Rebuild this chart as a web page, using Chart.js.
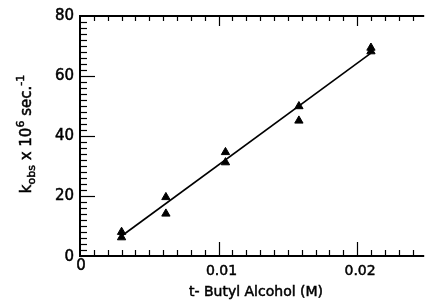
<!DOCTYPE html>
<html>
<head>
<meta charset="utf-8">
<script src="https://cdn.jsdelivr.net/npm/chart.js@4.4.1/dist/chart.umd.min.js"></script>
<style>
  html, body { margin: 0; padding: 0; background: #fff; }
  #wrap { width: 428px; height: 301px; }
</style>
</head>
<body>
<div id="wrap"><canvas id="c" width="428" height="301"></canvas></div>
<script>
// ---- data ----
const alcoholM   = [0.0030, 0.0030, 0.0062, 0.0062, 0.0105, 0.0105, 0.0158, 0.0158, 0.0210, 0.0210];
const kObs       = [8.0, 6.2, 19.6, 14.1, 34.6, 31.2, 49.9, 45.1, 69.4, 68.2];
const fitX       = [0.0031, 0.0210];
const fitY       = [7.0, 67.6];
const xTickVals  = [0, 0.01, 0.02];
const xTickText  = ['0', '0.01', '0.02'];
const yTickVals  = [0, 20, 40, 60, 80];
const yTickText  = ['0', '20', '40', '60', '80'];
const xTitle     = 't- Butyl Alcohol (M)';

const points = alcoholM.map((x, i) => ({ x: x, y: kObs[i] }));
const fit = fitX.map((x, i) => ({ x: x, y: fitY[i] }));

const FONT = '"DejaVu Sans", "Liberation Sans", sans-serif';

function heavyText(ctx, t, x, y) {
  ctx.fillText(t, x, y);
  ctx.strokeText(t, x, y);
}

const frame = {
  id: 'frame',
  afterDraw(chart) {
    const ctx = chart.ctx;
    const xs = chart.scales.x, ys = chart.scales.y;
    const a = chart.chartArea;
    ctx.save();
    ctx.strokeStyle = '#000';
    ctx.fillStyle = '#000';
    // border
    ctx.lineWidth = 2;
    ctx.beginPath();
    ctx.moveTo(a.right + 2, a.top);
    ctx.lineTo(a.left, a.top);
    ctx.lineTo(a.left, a.bottom);
    ctx.lineTo(a.right + 2, a.bottom);
    ctx.stroke();
    // x ticks (minor every 0.001, major 0.01)
    ctx.lineWidth = 1.2;
    for (let i = 1; i <= 24; i++) {
      const v = i * 0.001;
      const px = Math.round(xs.getPixelForValue(v)) + 0.5;
      const major = (i % 10 === 0);
      const len = major ? 14 : 6;
      ctx.beginPath();
      ctx.moveTo(px, a.bottom);
      ctx.lineTo(px, a.bottom - len);
      ctx.moveTo(px, a.top);
      ctx.lineTo(px, a.top + (major ? 10 : 5));
      ctx.stroke();
    }
    // y ticks (minor every 2, major at 20)
    for (let v = 2; v < 80; v += 2) {
      const py = Math.round(ys.getPixelForValue(v)) + 0.5;
      const major = (v % 20 === 0);
      const len = major ? 15 : 7;
      ctx.beginPath();
      ctx.moveTo(a.left, py);
      ctx.lineTo(a.left + len, py);
      ctx.stroke();
    }
    ctx.lineWidth = 0.5;
    // tick labels
    ctx.font = '15px ' + FONT;
    ctx.textAlign = 'right';
    ctx.textBaseline = 'middle';
    yTickVals.forEach((v, i) => {
      const py = ys.getPixelForValue(v);
      heavyText(ctx, yTickText[i], a.left - 6, py + (v === 0 ? 1 : 0));
    });
    ctx.textAlign = 'center';
    ctx.textBaseline = 'top';
    xTickVals.forEach((v, i) => {
      const px = xs.getPixelForValue(v);
      ctx.font = (v === 0 ? '15px ' : '14px ') + FONT;
      heavyText(ctx, xTickText[i], px + (v === 0 ? 1 : 3), a.bottom + (v === 0 ? 3 : 8));
    });
    // x title
    ctx.font = '14px ' + FONT;
    ctx.textAlign = 'center';
    ctx.textBaseline = 'middle';
    heavyText(ctx, xTitle, 256, 292);
    // y title with sub/superscripts
    const parts = [
      { t: 'k', s: 15, dy: 0 },
      { t: 'obs', s: 11, dy: 4 },
      { t: ' x 10', s: 15, dy: 0 },
      { t: '6', s: 11, dy: -7 },
      { t: ' sec.', s: 15, dy: 0 },
      { t: '-1', s: 11, dy: -7 }
    ];
    let total = 0;
    parts.forEach(p => { ctx.font = p.s + 'px ' + FONT; p.w = ctx.measureText(p.t).width; total += p.w; });
    ctx.translate(31, 134);
    ctx.rotate(-Math.PI / 2);
    ctx.textAlign = 'left';
    ctx.textBaseline = 'alphabetic';
    let cx = -total / 2;
    parts.forEach(p => {
      ctx.font = p.s + 'px ' + FONT;
      heavyText(ctx, p.t, cx, 0 + p.dy);
      cx += p.w;
    });
    ctx.restore();
  }
};

new Chart(document.getElementById('c'), {
  type: 'scatter',
  data: {
    datasets: [
      {
        label: 'fit',
        type: 'line',
        data: fit,
        borderColor: '#000',
        borderWidth: 1.6,
        pointRadius: 0,
        fill: false
      },
      {
        label: 'k_obs',
        data: points,
        pointStyle: 'triangle',
        pointRadius: 4.8,
        backgroundColor: '#000',
        borderColor: '#000',
        borderWidth: 1
      }
    ]
  },
  options: {
    responsive: false,
    animation: false,
    devicePixelRatio: 1,
    layout: { padding: { left: 80, top: 16, right: 0, bottom: 45 } },
    plugins: { legend: { display: false }, tooltip: { enabled: false } },
    scales: {
      x: { type: 'linear', min: 0, max: 0.0247, display: false },
      y: { type: 'linear', min: 0, max: 80, display: false }
    }
  },
  plugins: [frame]
});
</script>
</body>
</html>
